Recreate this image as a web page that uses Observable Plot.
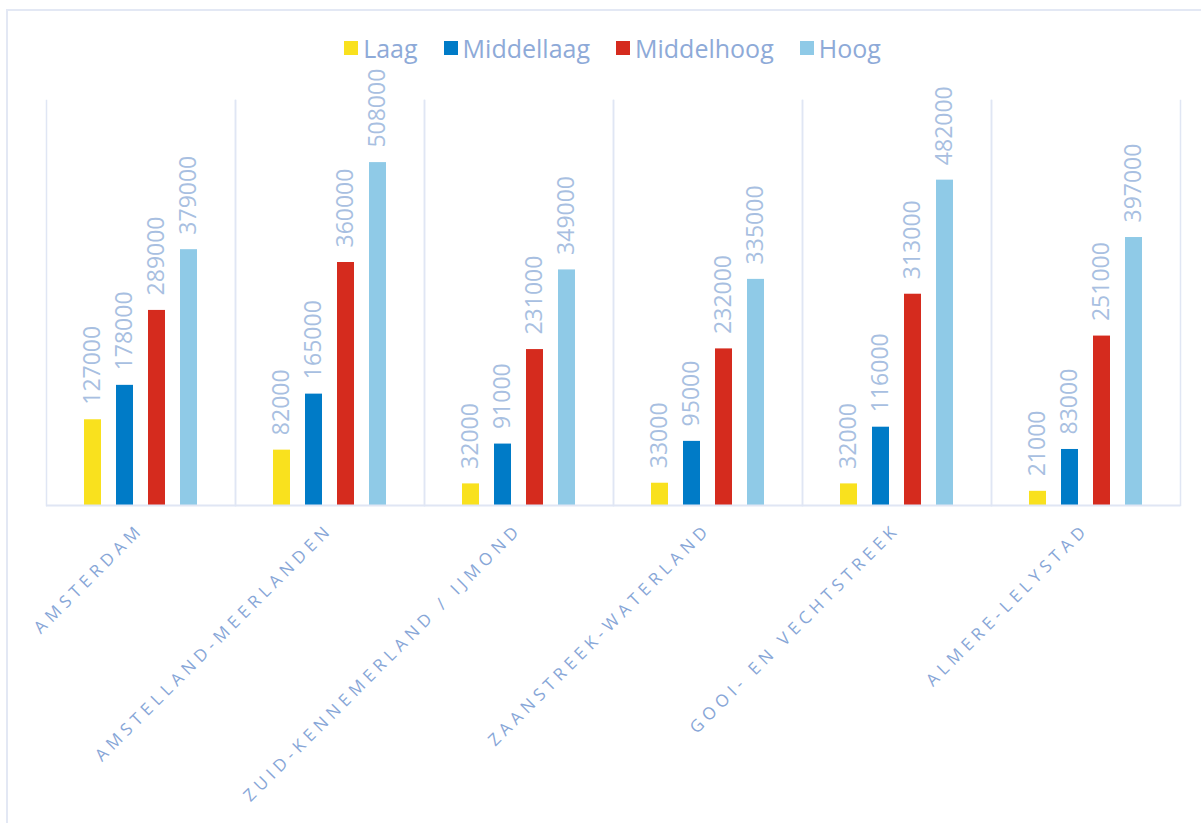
<!DOCTYPE html>
<html>
<head>
<meta charset="utf-8">
<script src="https://cdn.jsdelivr.net/npm/d3@7"></script>
<script src="https://cdn.jsdelivr.net/npm/@observablehq/plot@0.6"></script>
<style>
  html, body { margin: 0; padding: 0; background: #ffffff; }
  #wrap { position: relative; width: 1201px; height: 823px; overflow: hidden; font-family: "Open Sans", sans-serif; }
  #border { position: absolute; left: 6px; top: 9px; right: -4px; bottom: -4px;
            border-top: 2px solid #e3e8f4; border-left: 2px solid #e3e8f4; z-index: 0; }
  #content { position: relative; z-index: 1; }
  #legend { display: flex; justify-content: center; align-items: center; margin-left: 44px; width: 1137px;
            height: 30px; padding-top: 33px; padding-bottom: 2px; box-sizing: content-box; }
  .item { display: flex; align-items: center; margin: 0 13px; }
  .sw { width: 14px; height: 14px; margin-right: 5px; }
  .lab { font-size: 25px; color: #8eaad8; line-height: 30px; }
  #chart svg { background: transparent !important; }
  #chart g[aria-label="fx-axis tick label"] text { letter-spacing: 4.9px; }
</style>
</head>
<body>
<div id="wrap">
  <div id="border"></div>
  <div id="content">
    <div id="legend"></div>
    <div id="chart"></div>
  </div>
</div>
<script>
const regions = ["AMSTERDAM", "AMSTELLAND-MEERLANDEN", "ZUID-KENNEMERLAND / IJMOND", "ZAANSTREEK-WATERLAND", "GOOI- EN VECHTSTREEK", "ALMERE-LELYSTAD"];
const levels = ["Laag", "Middellaag", "Middelhoog", "Hoog"];
const colors = ["#f9e11e", "#007bc7", "#d52b1e", "#8fcae7"];
const laag = [127000, 82000, 32000, 33000, 32000, 21000];
const middellaag = [178000, 165000, 91000, 95000, 116000, 83000];
const middelhoog = [289000, 360000, 231000, 232000, 313000, 251000];
const hoog = [379000, 508000, 349000, 335000, 482000, 397000];

const series = [laag, middellaag, middelhoog, hoog];
const data = [];
regions.forEach((r, i) => {
  levels.forEach((l, j) => {
    data.push({region: r, level: l, value: series[j][i]});
  });
});

// Legend
const legend = document.getElementById("legend");
levels.forEach((l, j) => {
  const it = document.createElement("div");
  it.className = "item";
  const sw = document.createElement("div");
  sw.className = "sw";
  sw.style.background = colors[j];
  const t = document.createElement("span");
  t.className = "lab";
  t.textContent = l;
  it.appendChild(sw);
  it.appendChild(t);
  legend.appendChild(it);
});

const gridColor = "#e0e6f4";

const chart = Plot.plot({
  width: 1201,
  height: 758,
  marginLeft: 44,
  marginRight: 20,
  marginTop: 35,
  marginBottom: 318,
  style: {fontFamily: "Open Sans, sans-serif", background: "transparent", overflow: "visible"},
  fx: {domain: regions, padding: 0, label: null},
  x: {domain: levels, paddingInner: 0.468, paddingOuter: 1.151, axis: null},
  y: {domain: [0, 600000], axis: null},
  color: {domain: levels, range: colors},
  marks: [
    Plot.frame({anchor: "left", stroke: gridColor, strokeWidth: 1.5}),
    Plot.frame({anchor: "right", stroke: gridColor, strokeWidth: 1.5}),
    Plot.barY(data, {fx: "region", x: "level", y: "value", fill: "level"}),
    Plot.ruleY([0], {stroke: gridColor, strokeWidth: 2}),
    Plot.text(data, {
      fx: "region", x: "level", y: "value",
      text: d => String(d.value),
      rotate: -90, textAnchor: "start", lineAnchor: "middle",
      dy: -15, fill: "#a8bfe1", fontSize: 23
    }),
    Plot.axisFx({
      anchor: "bottom", tickRotate: -45, tickSize: 0, tickPadding: 21,
      fontSize: 17, fill: "#87a6d7", label: null
    })
  ]
});
document.getElementById("chart").appendChild(chart);
</script>
</body>
</html>
